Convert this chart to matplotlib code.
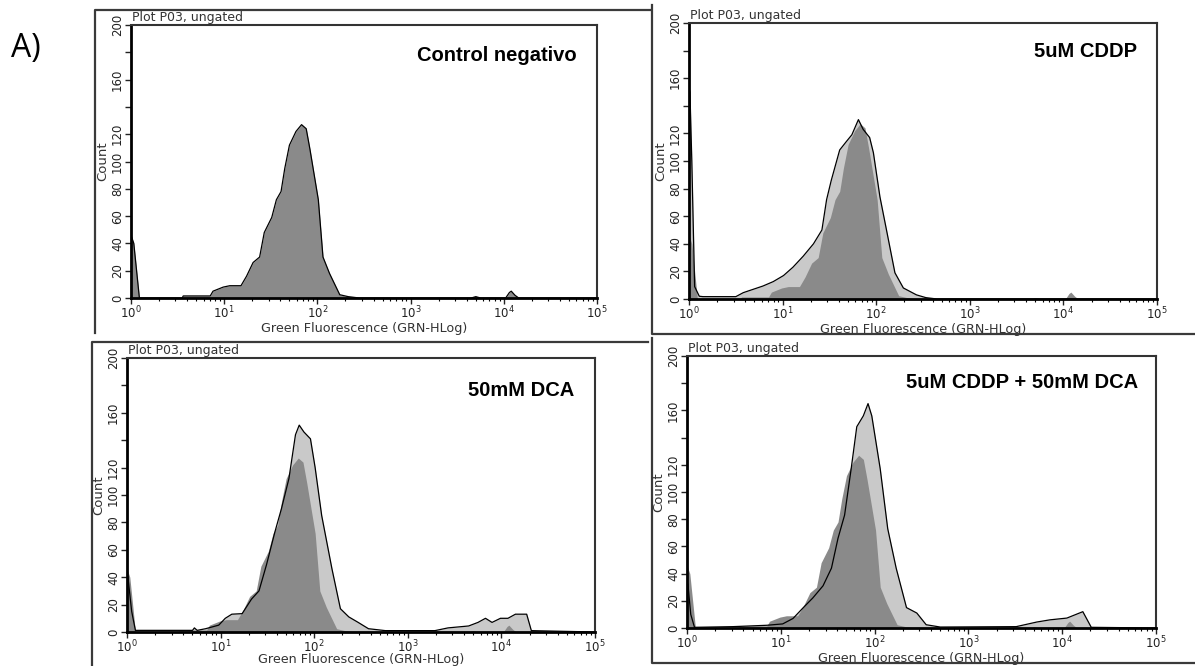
import numpy as np
import matplotlib.pyplot as plt
from matplotlib.ticker import LogLocator, FixedFormatter, FixedLocator
from matplotlib.lines import Line2D

# control (dark gray), read in decades of Green Fluorescence
control_log_fl = [0.0, 0.03, 0.06, 0.09, 0.55, 0.56, 0.85, 0.88, 0.99, 1.06, 1.18, 1.24,
                  1.31, 1.38, 1.43, 1.51, 1.56, 1.61, 1.65, 1.70, 1.77, 1.83, 1.88, 1.92,
                  2.01, 2.06, 2.13, 2.24, 2.33, 2.45, 3.65, 3.70, 3.75, 4.02, 4.06, 4.08,
                  4.12, 4.16, 5.0]
control_counts = [46, 40, 20, 0, 0, 1.5, 1.5, 5, 8, 9, 9, 16,
                  26, 30, 48, 59, 72, 78, 95, 112, 122, 127, 124, 109,
                  72, 30, 18, 2.4, 1, 0, 0, 1, 0, 0, 4, 5,
                  2, 0, 0]

# 5uM CDDP
cddp_log_fl = [0.0, 0.01, 0.03, 0.06, 0.11, 0.15, 0.50, 0.58, 0.79, 0.90, 1.01, 1.11,
               1.22, 1.33, 1.42, 1.47, 1.52, 1.61, 1.68, 1.74, 1.81, 1.86, 1.93, 1.97,
               2.04, 2.11, 2.20, 2.29, 2.43, 2.53, 2.65, 5.0]
cddp_counts = [153, 150, 100, 9, 2, 1.7, 1.7, 4.6, 9.4, 12.6, 17, 23,
               31, 40, 50, 72, 86, 108, 114, 119, 130, 123, 117, 106,
               74, 50, 19, 8, 3, 1, 0, 0]

# 50mM DCA
dca_log_fl = [0.0, 0.01, 0.05, 0.09, 0.70, 0.72, 0.75, 0.84, 0.98, 1.05, 1.12, 1.23,
              1.33, 1.41, 1.49, 1.58, 1.65, 1.73, 1.80, 1.84, 1.89, 1.96, 2.01, 2.08,
              2.19, 2.28, 2.37, 2.47, 2.58, 2.76, 3.29, 3.43, 3.65, 3.75, 3.83, 3.90,
              3.99, 4.07, 4.15, 4.27, 4.32, 5.0]
dca_counts = [43, 40, 15, 1.2, 1.2, 3, 1.2, 2.4, 5, 10, 13, 13.4,
              24, 30, 49, 73, 90, 112, 144, 151, 146, 141, 120, 85,
              46, 17, 11, 7, 2.4, 1, 1, 3, 4.4, 7, 10, 7,
              10, 10, 13, 13, 1, 0]

# 5uM CDDP + 50mM DCA
combo_log_fl = [0.0, 0.01, 0.04, 0.08, 0.49, 0.85, 1.02, 1.13, 1.24, 1.34, 1.45, 1.54,
                1.61, 1.68, 1.75, 1.81, 1.88, 1.93, 1.97, 2.06, 2.14, 2.23, 2.34, 2.45,
                2.55, 2.70, 3.51, 3.73, 3.87, 4.05, 4.22, 4.31, 5.0]
combo_counts = [34, 32, 10, 0.5, 1, 2, 3, 7, 15, 22, 31, 44,
                66, 83, 117, 148, 156, 165, 156, 117, 73, 44, 15, 11,
                2.4, 0.7, 1, 4.4, 6, 7.3, 12, 0.5, 0]

labels = ["Control negativo", "5uM CDDP", "50mM DCA", "5uM CDDP + 50mM DCA"]
treatments = [None, (cddp_log_fl, cddp_counts), (dca_log_fl, dca_counts),
              (combo_log_fl, combo_counts)]
count_ticks = [0, 20, 40, 60, 80, 100, 120, 140, 160, 180, 200]
count_tick_labels = ["0", "20", "40", "60", "80", "100", "120", "", "160", "", "200"]

W, H = 1195, 666
# axes boxes in pixels: x0, x1, ytop, ybottom
boxes = [(131, 597, 25, 298), (689, 1157, 23, 299),
         (127, 595, 358, 632), (687, 1156, 356, 628)]
label_pos = [(0.957, 0.89), (0.957, 0.895), (0.955, 0.883), (0.962, 0.904)]
xlabel_pad = [0, 0, -1.5, 0]

DARK = '#8a8a8a'
LIGHT = '#c9c9c9'

fig = plt.figure(figsize=(W / 100, H / 100), dpi=100)
fig.patch.set_facecolor('white')


def px_line(xs, ys):
    fig.add_artist(Line2D([x / W for x in xs], [1 - y / H for y in ys],
                          color='#3a3a3a', lw=1.6, transform=fig.transFigure))


# panel frames
px_line([95, 95, 650], [333, 10, 10])
px_line([652, 652, 1195], [5, 334, 334])
px_line([92, 92, 648], [666, 342, 342])
px_line([652, 652, 1195], [338, 663, 663])

fig.text(11 / W, 1 - 48 / H, "A)", fontsize=23, family='Open Sans', va='center')

ctrl_fl = np.power(10.0, control_log_fl)

for i, (x0, x1, yt, yb) in enumerate(boxes):
    ax = fig.add_axes([x0 / W, 1 - yb / H, (x1 - x0) / W, (yb - yt) / H])
    if treatments[i] is None:
        ax.fill_between(ctrl_fl, control_counts, color=DARK, lw=0)
        ax.plot(ctrl_fl, control_counts, color='black', lw=0.9)
    else:
        lf, ct = treatments[i]
        fl = np.power(10.0, lf)
        ax.fill_between(fl, ct, color=LIGHT, lw=0)
        ax.fill_between(ctrl_fl, control_counts, color=DARK, lw=0)
        ax.plot(fl, ct, color='black', lw=0.9)

    ax.set_xscale('log')
    ax.set_xlim(1, 1e5)
    ax.set_ylim(0, 200)
    ax.xaxis.set_major_locator(LogLocator(base=10, numticks=10))
    ax.xaxis.set_minor_locator(LogLocator(base=10, subs=np.arange(2, 10), numticks=20))
    ax.yaxis.set_major_locator(FixedLocator(count_ticks))
    ax.yaxis.set_major_formatter(FixedFormatter(count_tick_labels))
    ax.tick_params(axis='both', which='major', direction='out', length=4,
                   width=1, labelsize=8.5, colors='#222222', pad=1)
    ax.tick_params(axis='x', which='minor', direction='out', length=2, width=0.8)
    for t in ax.get_yticklabels():
        t.set_rotation(90)
        t.set_va('center')
    for side in ['left', 'bottom']:
        ax.spines[side].set_linewidth(2)
        ax.spines[side].set_color('black')
    for side in ['top', 'right']:
        ax.spines[side].set_linewidth(1.5)
        ax.spines[side].set_color('#333333')

    ax.set_xlabel("Green Fluorescence (GRN-HLog)", fontsize=9.2, color='#333333',
                  labelpad=xlabel_pad[i])
    ax.set_ylabel("Count", fontsize=9.5, color='#333333', labelpad=1)
    ax.text(0.003, 1.003, "Plot P03, ungated", transform=ax.transAxes,
            fontsize=9, color='#333333', va='bottom', ha='left')
    ax.text(label_pos[i][0], label_pos[i][1], labels[i], transform=ax.transAxes,
            fontsize=14.5, fontweight='bold', family='Liberation Sans',
            ha='right', va='center')

fig.savefig('out.png', dpi=100)
